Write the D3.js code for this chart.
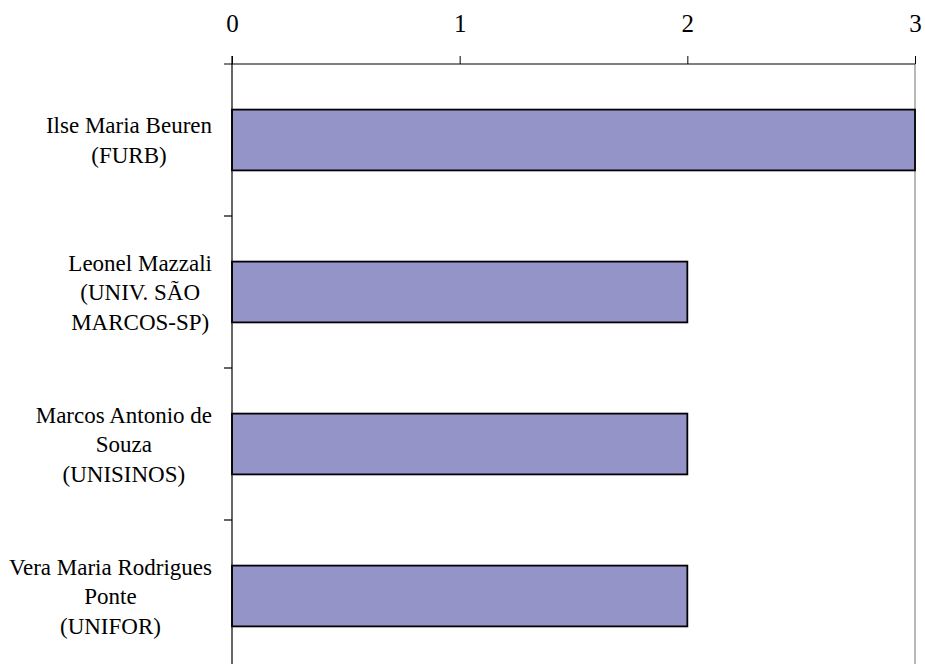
<!DOCTYPE html>
<html>
<head>
<meta charset="utf-8">
<script src="https://cdn.jsdelivr.net/npm/d3@7"></script>
<style>
  html, body { margin: 0; padding: 0; background: #fff; }
  svg { display: block; }
</style>
</head>
<body>
<svg id="chart" width="925" height="664"></svg>
<script>
const categories = [
  "Ilse Maria Beuren\n(FURB)",
  "Leonel Mazzali\n(UNIV. SÃO\nMARCOS-SP)",
  "Marcos Antonio de\nSouza\n(UNISINOS)",
  "Vera Maria Rodrigues\nPonte\n(UNIFOR)"
];
const values = [3, 2, 2, 2];
const tickValues = [0, 1, 2, 3];
const tickLabels = ["0", "1", "2", "3"];

const FONT = "'Liberation Serif', 'Times New Roman', Tinos, serif";
const svg = d3.select("#chart");
const plotLeft = 232, plotRight = 915, plotTop = 64, plotBottom = 672;

const x = d3.scaleLinear().domain([0, 3]).range([plotLeft, plotRight]);
const y = d3.scaleBand().domain(categories).range([plotTop, plotBottom])
  .paddingInner(0.6).paddingOuter(0.3);
const yc = d3.scaleBand().domain(categories).range([plotTop, plotBottom]).padding(0);

// right plot border (grey)
svg.append("line")
  .attr("x1", x(3)).attr("x2", x(3))
  .attr("y1", plotTop).attr("y2", 664)
  .attr("stroke", "#a0a0a0").attr("stroke-width", 1.5);

// bars
svg.append("g").selectAll("rect").data(values).join("rect")
  .attr("x", x(0))
  .attr("y", (d, i) => y(categories[i]))
  .attr("width", d => x(d) - x(0))
  .attr("height", y.bandwidth())
  .attr("fill", "#9494c8")
  .attr("stroke", "#000")
  .attr("stroke-width", 1.8);

// top axis
const xAxis = d3.axisTop(x).tickValues(tickValues)
  .tickFormat((d, i) => tickLabels[i]).tickSize(8).tickSizeOuter(0).tickPadding(24);
const gx = svg.append("g").attr("transform", `translate(0,${plotTop})`).call(xAxis);
gx.select(".domain").attr("stroke", "#000").attr("stroke-width", 1.2)
  .attr("d", `M${plotLeft - 8},0H${plotRight}`);
gx.selectAll(".tick line").attr("stroke", "#000").attr("stroke-width", 1);
gx.selectAll(".tick text").style("font-size", "25px").style("font-family", FONT).attr("fill", "#000");

// left axis line
svg.append("line")
  .attr("x1", plotLeft).attr("x2", plotLeft).attr("y1", plotTop - 8).attr("y2", 664)
  .attr("stroke", "#000").attr("stroke-width", 1.2);

// category separator ticks
svg.append("g").selectAll("line").data(categories.slice(1)).join("line")
  .attr("x1", plotLeft - 8).attr("x2", plotLeft)
  .attr("y1", d => yc(d)).attr("y2", d => yc(d))
  .attr("stroke", "#000").attr("stroke-width", 1.2);

// category labels
const lh = 29.5;
const labelRight = 212;
categories.forEach((c, i) => {
  const lines = c.split("\n");
  const cy = yc(c) + yc.bandwidth() / 2;
  const g = svg.append("g");
  const texts = lines.map((ln, k) => g.append("text")
    .attr("y", cy - (lines.length - 1) * lh / 2 + 8 + k * lh)
    .style("font-family", FONT)
    .style("font-size", "23px")
    .attr("fill", "#000")
    .attr("text-anchor", "middle")
    .text(ln));
  const maxW = d3.max(texts, t => t.node().getComputedTextLength());
  texts.forEach(t => t.attr("x", labelRight - maxW / 2));
});
</script>
</body>
</html>
